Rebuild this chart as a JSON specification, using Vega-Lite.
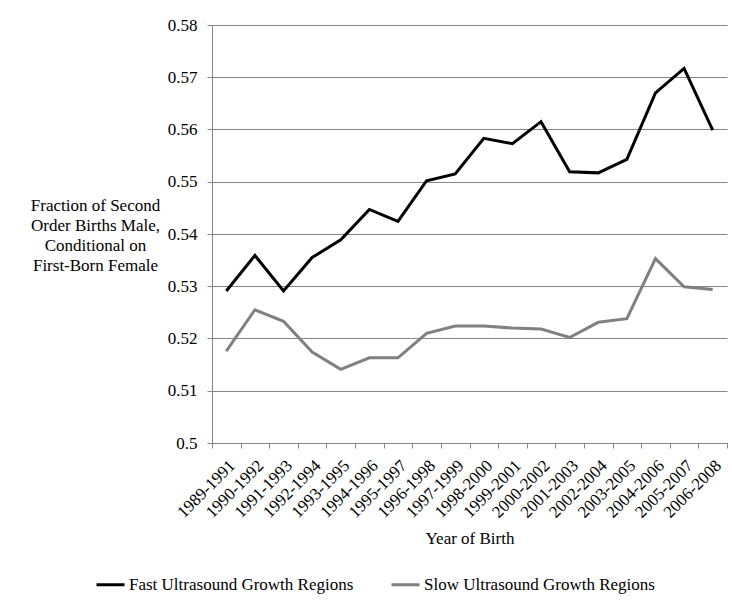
{
  "$schema": "https://vega.github.io/schema/vega-lite/v6.json",
  "width": 515,
  "height": 418,
  "autosize": {"type": "none"},
  "padding": {"left": 212, "top": 25, "right": 5, "bottom": 161},
  "background": "white",
  "config": {
    "font": "Liberation Serif",
    "view": {"stroke": null},
    "axis": {"labelFont": "Liberation Serif", "titleFont": "Liberation Serif", "labelColor": "#000", "titleColor": "#000", "titleFontWeight": "normal"},
    "legend": {"labelFont": "Liberation Serif", "labelColor": "#000"}
  },
  "data": {
    "values": [
      {"period": "1989-1991", "series": "Fast Ultrasound Growth Regions", "value": 0.5291},
      {"period": "1990-1992", "series": "Fast Ultrasound Growth Regions", "value": 0.5359},
      {"period": "1991-1993", "series": "Fast Ultrasound Growth Regions", "value": 0.5291},
      {"period": "1992-1994", "series": "Fast Ultrasound Growth Regions", "value": 0.5355},
      {"period": "1993-1995", "series": "Fast Ultrasound Growth Regions", "value": 0.5389},
      {"period": "1994-1996", "series": "Fast Ultrasound Growth Regions", "value": 0.5447},
      {"period": "1995-1997", "series": "Fast Ultrasound Growth Regions", "value": 0.5424},
      {"period": "1996-1998", "series": "Fast Ultrasound Growth Regions", "value": 0.5502},
      {"period": "1997-1999", "series": "Fast Ultrasound Growth Regions", "value": 0.5515},
      {"period": "1998-2000", "series": "Fast Ultrasound Growth Regions", "value": 0.5583},
      {"period": "1999-2001", "series": "Fast Ultrasound Growth Regions", "value": 0.5573},
      {"period": "2000-2002", "series": "Fast Ultrasound Growth Regions", "value": 0.5615},
      {"period": "2001-2003", "series": "Fast Ultrasound Growth Regions", "value": 0.5519},
      {"period": "2002-2004", "series": "Fast Ultrasound Growth Regions", "value": 0.5517},
      {"period": "2003-2005", "series": "Fast Ultrasound Growth Regions", "value": 0.5543},
      {"period": "2004-2006", "series": "Fast Ultrasound Growth Regions", "value": 0.5670},
      {"period": "2005-2007", "series": "Fast Ultrasound Growth Regions", "value": 0.5717},
      {"period": "2006-2008", "series": "Fast Ultrasound Growth Regions", "value": 0.5599},
      {"period": "1989-1991", "series": "Slow Ultrasound Growth Regions", "value": 0.5176},
      {"period": "1990-1992", "series": "Slow Ultrasound Growth Regions", "value": 0.5255},
      {"period": "1991-1993", "series": "Slow Ultrasound Growth Regions", "value": 0.5233},
      {"period": "1992-1994", "series": "Slow Ultrasound Growth Regions", "value": 0.5174},
      {"period": "1993-1995", "series": "Slow Ultrasound Growth Regions", "value": 0.5141},
      {"period": "1994-1996", "series": "Slow Ultrasound Growth Regions", "value": 0.5163},
      {"period": "1995-1997", "series": "Slow Ultrasound Growth Regions", "value": 0.5163},
      {"period": "1996-1998", "series": "Slow Ultrasound Growth Regions", "value": 0.5210},
      {"period": "1997-1999", "series": "Slow Ultrasound Growth Regions", "value": 0.5224},
      {"period": "1998-2000", "series": "Slow Ultrasound Growth Regions", "value": 0.5224},
      {"period": "1999-2001", "series": "Slow Ultrasound Growth Regions", "value": 0.5220},
      {"period": "2000-2002", "series": "Slow Ultrasound Growth Regions", "value": 0.5218},
      {"period": "2001-2003", "series": "Slow Ultrasound Growth Regions", "value": 0.5202},
      {"period": "2002-2004", "series": "Slow Ultrasound Growth Regions", "value": 0.5231},
      {"period": "2003-2005", "series": "Slow Ultrasound Growth Regions", "value": 0.5238},
      {"period": "2004-2006", "series": "Slow Ultrasound Growth Regions", "value": 0.5353},
      {"period": "2005-2007", "series": "Slow Ultrasound Growth Regions", "value": 0.5299},
      {"period": "2006-2008", "series": "Slow Ultrasound Growth Regions", "value": 0.5294}
    ]
  },
  "mark": {"type": "line", "strokeWidth": 3},
  "encoding": {
    "x": {
      "field": "period",
      "type": "ordinal",
      "sort": null,
      "bandPosition": 0.5,
      "scale": {"type": "band", "paddingInner": 0, "paddingOuter": 0},
      "axis": {
        "title": "Year of Birth",
        "titleFontSize": 17,
        "titlePadding": 10,
        "labelAngle": -45,
        "labelFontSize": 17,
        "labelPadding": 9,
        "tickBand": "extent",
        "tickSize": 5,
        "tickColor": "#868686",
        "domainColor": "#868686",
        "grid": false
      }
    },
    "y": {
      "field": "value",
      "type": "quantitative",
      "scale": {"domain": [0.5, 0.58], "nice": false, "zero": false},
      "axis": {
        "values": [0.5, 0.51, 0.52, 0.53, 0.54, 0.55, 0.56, 0.57, 0.58],
        "format": ".2~f",
        "labelFontSize": 17,
        "labelPadding": 10,
        "tickSize": 5,
        "tickColor": "#868686",
        "domainColor": "#868686",
        "grid": true,
        "gridColor": "#868686",
        "gridWidth": 1,
        "title": ["Fraction of Second", "Order Births Male,", "Conditional on", "First-Born Female"],
        "titleAngle": 0,
        "titleAlign": "center",
        "titleBaseline": "alphabetic",
        "titleFontSize": 17,
        "titleLineHeight": 20,
        "titleX": -117,
        "titleY": 185
      }
    },
    "color": {
      "field": "series",
      "type": "nominal",
      "scale": {"domain": ["Fast Ultrasound Growth Regions", "Slow Ultrasound Growth Regions"], "range": ["#000000", "#808080"]},
      "legend": {
        "title": null,
        "orient": "none",
        "direction": "horizontal",
        "legendX": -117,
        "legendY": 544,
        "symbolType": "stroke",
        "symbolStrokeWidth": 3,
        "symbolSize": 784,
        "labelFontSize": 17,
        "labelOffset": 3,
        "columnPadding": 31,
        "labelLimit": 400
      }
    }
  }
}
